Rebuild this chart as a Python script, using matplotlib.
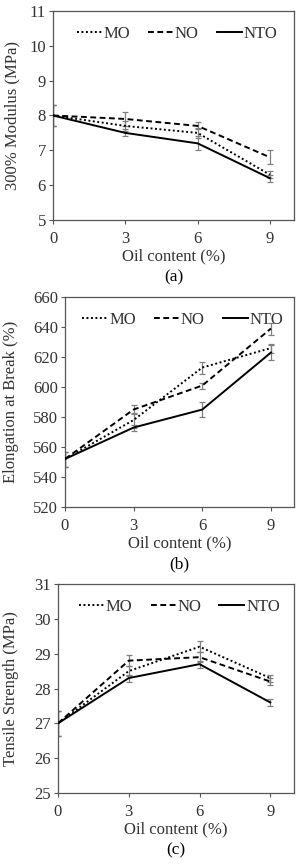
import matplotlib
matplotlib.use("Agg")
import matplotlib.pyplot as plt

plt.rcParams['font.family'] = ['Liberation Serif', 'DejaVu Serif']

oil = [0, 3, 6, 9]
series = ['MO', 'NO', 'NTO']

mod_MO = [8.0, 7.7, 7.5, 6.3]
mod_NO = [8.0, 7.9, 7.7, 6.8]
mod_NTO = [8.0, 7.5, 7.2, 6.2]
mod_err_MO = [0.3, 0.15, 0.15, 0.1]
mod_err_NO = [0.3, 0.2, 0.1, 0.2]
mod_err_NTO = [0.3, 0.1, 0.2, 0.1]

el_MO = [552, 578, 613, 626]
el_NO = [552, 585, 601, 639]
el_NTO = [552, 573, 585, 623]
el_err_MO = [5, 5, 4, 3]
el_err_NO = [5, 3, 2, 4]
el_err_NTO = [5, 2, 5, 5]

ts_MO = [27.0, 28.5, 29.2, 28.3]
ts_NO = [27.0, 28.8, 28.9, 28.2]
ts_NTO = [27.0, 28.3, 28.7, 27.6]
ts_err_MO = [0.35, 0.15, 0.15, 0.1]
ts_err_NO = [0.35, 0.15, 0.15, 0.1]
ts_err_NTO = [0.35, 0.1, 0.1, 0.1]

styles = {'MO': (0, (1, 1.3)), 'NO': (0, (3.0, 1.8)), 'NTO': '-'}
text_col = '#333333'
fs = 12

fig = plt.figure(figsize=(3.02, 8.66), dpi=100)

panels = [
    dict(rect=[0.1755, 0.746, 0.798, 0.2413], data=[mod_MO, mod_NO, mod_NTO],
         err=[mod_err_MO, mod_err_NO, mod_err_NTO], ylim=(5, 11), yticks=[5, 6, 7, 8, 9, 10, 11],
         ylabel='300% Modulus (MPa)', tag='(a)', ylx=-0.137),
    dict(rect=[0.215, 0.4145, 0.758, 0.2425], data=[el_MO, el_NO, el_NTO],
         err=[el_err_MO, el_err_NO, el_err_NTO], ylim=(520, 660),
         yticks=[520, 540, 560, 580, 600, 620, 640, 660],
         ylabel='Elongation at Break (%)', tag='(b)', ylx=-0.201),
    dict(rect=[0.192, 0.0843, 0.781, 0.2413], data=[ts_MO, ts_NO, ts_NTO],
         err=[ts_err_MO, ts_err_NO, ts_err_NTO], ylim=(25, 31), yticks=[25, 26, 27, 28, 29, 30, 31],
         ylabel='Tensile Strength (MPa)', tag='(c)', ylx=-0.165),
]

for p in panels:
    ax = fig.add_axes(p['rect'])
    for name, vals, errs in zip(series, p['data'], p['err']):
        ax.errorbar(oil, vals, yerr=errs, fmt='none', ecolor='#808080', elinewidth=0.9,
                    capsize=2, capthick=0.9, zorder=2)
        ax.plot(oil, vals, color='black', linestyle=styles[name], linewidth=1.4,
                label=name, zorder=3)
    ax.set_xlim(0, 10)
    ax.set_ylim(*p['ylim'])
    ax.set_xticks(oil)
    ax.set_yticks(p['yticks'])
    for s in ax.spines.values():
        s.set_color('#555555')
        s.set_linewidth(0.9)
    ax.tick_params(axis='both', direction='out', length=3, width=0.8, color='#555555',
                   labelsize=fs, labelcolor=text_col, pad=2)
    ax.tick_params(axis='x', pad=5)
    ax.set_xlabel('Oil content (%)', fontsize=fs, color=text_col, labelpad=1)
    ax.set_ylabel(p['ylabel'], fontsize=fs, color=text_col)
    ax.yaxis.set_label_coords(p['ylx'], 0.5)
    leg = ax.legend(loc='upper center', ncol=3, frameon=False, fontsize=fs,
                    handlelength=1.5, handletextpad=0.1, columnspacing=1.1,
                    borderaxespad=0.5, bbox_to_anchor=(0.515, 1.0))
    for t in leg.get_texts():
        t.set_color(text_col)
    ax.text(0.5, -0.275, p['tag'], transform=ax.transAxes, ha='center', va='center',
            fontsize=fs + 0.5, color='black')

fig.savefig('out.png', dpi=100)
